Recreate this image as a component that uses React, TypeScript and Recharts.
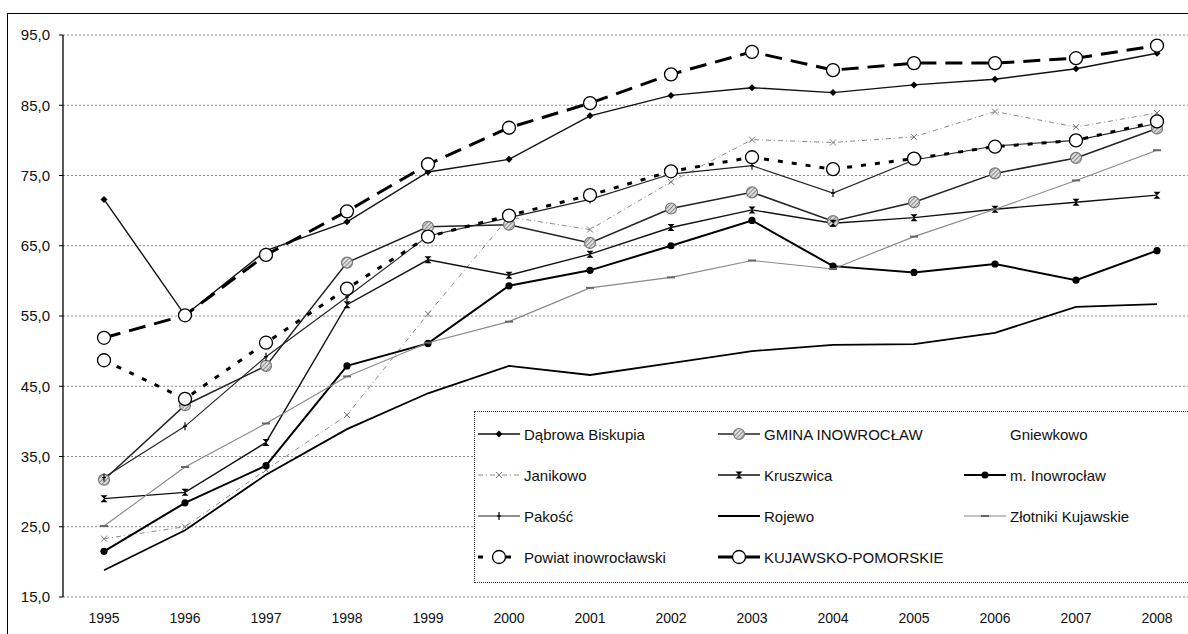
import React from "react";
import { LineChart, Line, XAxis, YAxis, CartesianGrid } from "recharts";

const years = ["1995", "1996", "1997", "1998", "1999", "2000", "2001", "2002", "2003", "2004", "2005", "2006", "2007", "2008"];
const yTicks = [15, 25, 35, 45, 55, 65, 75, 85, 95];

const dabrowa = [71.6, 55.1, 64.3, 68.4, 75.5, 77.3, 83.5, 86.4, 87.5, 86.8, 87.9, 88.7, 90.2, 92.4];
const gmina = [31.7, 42.3, 47.9, 62.6, 67.7, 68.0, 65.4, 70.3, 72.6, 68.5, 71.2, 75.3, 77.5, 81.7];
const gniewkowo: (number | null)[] = [null, null, null, null, null, null, null, null, null, null, null, null, null, null];
const janikowo = [23.3, 25.0, 33.1, 40.9, 55.3, 69.1, 67.3, 74.1, 80.1, 79.7, 80.5, 84.1, 81.9, 83.9];
const kruszwica = [29.0, 29.9, 37.0, 56.6, 63.0, 60.8, 63.8, 67.6, 70.1, 68.2, 69.0, 70.2, 71.2, 72.2];
const inowroclaw = [21.5, 28.4, 33.7, 47.9, 51.1, 59.3, 61.5, 65.0, 68.6, 62.1, 61.2, 62.4, 60.1, 64.3];
const pakosc = [32.0, 39.3, 49.2, 57.7, 66.4, 69.0, 71.6, 75.2, 76.4, 72.5, 77.2, 79.2, 80.0, 82.4];
const rojewo = [18.8, 24.5, 32.4, 38.9, 44.0, 47.9, 46.6, 48.3, 50.0, 50.9, 51.0, 52.6, 56.3, 56.7];
const zlotniki = [25.1, 33.5, 39.7, 46.4, 51.2, 54.2, 59.0, 60.5, 62.9, 61.7, 66.3, 70.2, 74.3, 78.6];
const powiat = [48.7, 43.2, 51.2, 58.9, 66.3, 69.3, 72.2, 75.6, 77.6, 75.9, 77.4, 79.1, 80.0, 82.7];
const kujawsko = [51.9, 55.1, 63.7, 69.9, 76.6, 81.8, 85.3, 89.4, 92.6, 90.0, 91.0, 91.0, 91.7, 93.5];

const data = years.map((year, i) => ({
  year,
  dabrowa: dabrowa[i],
  gmina: gmina[i],
  gniewkowo: gniewkowo[i],
  janikowo: janikowo[i],
  kruszwica: kruszwica[i],
  inowroclaw: inowroclaw[i],
  pakosc: pakosc[i],
  rojewo: rojewo[i],
  zlotniki: zlotniki[i],
  powiat: powiat[i],
  kujawsko: kujawsko[i],
}));

type Kind = "diamond" | "hatch" | "xgrey" | "bowtie" | "dot" | "plus" | "dash" | "open" | "none";

interface SeriesDef {
  key: string;
  name: string;
  color: string;
  width: number;
  dash?: string;
  marker: Kind;
}

const series: SeriesDef[] = [
  { key: "dabrowa", name: "Dąbrowa Biskupia", color: "#111", width: 1.4, marker: "diamond" },
  { key: "gmina", name: "GMINA INOWROCŁAW", color: "#222", width: 1.5, marker: "hatch" },
  { key: "gniewkowo", name: "Gniewkowo", color: "#fff", width: 1, marker: "none" },
  { key: "janikowo", name: "Janikowo", color: "#8a8a8a", width: 1, dash: "5 3 1 3", marker: "xgrey" },
  { key: "kruszwica", name: "Kruszwica", color: "#111", width: 1.4, marker: "bowtie" },
  { key: "inowroclaw", name: "m. Inowrocław", color: "#000", width: 2, marker: "dot" },
  { key: "pakosc", name: "Pakość", color: "#222", width: 1.1, marker: "plus" },
  { key: "rojewo", name: "Rojewo", color: "#000", width: 1.8, marker: "none" },
  { key: "zlotniki", name: "Złotniki Kujawskie", color: "#888", width: 1.1, marker: "dash" },
  { key: "powiat", name: "Powiat inowrocławski", color: "#000", width: 3, dash: "5 9", marker: "open" },
  { key: "kujawsko", name: "KUJAWSKO-POMORSKIE", color: "#000", width: 3, dash: "17 9", marker: "open" },
];

function Marker({ kind, cx, cy, hatchId }: { kind: Kind; cx: number; cy: number; hatchId: string }) {
  switch (kind) {
    case "diamond":
      return <polygon points={`${cx},${cy - 3.5} ${cx + 3.5},${cy} ${cx},${cy + 3.5} ${cx - 3.5},${cy}`} fill="#000" />;
    case "hatch":
      return <circle cx={cx} cy={cy} r={5.5} fill={`url(#${hatchId})`} stroke="#777" strokeWidth={1.2} />;
    case "xgrey":
      return (
        <g stroke="#777" strokeWidth={1}>
          <line x1={cx - 3} y1={cy - 3} x2={cx + 3} y2={cy + 3} />
          <line x1={cx - 3} y1={cy + 3} x2={cx + 3} y2={cy - 3} />
        </g>
      );
    case "bowtie":
      return <polygon points={`${cx - 3.5},${cy - 3.5} ${cx + 3.5},${cy - 3.5} ${cx - 3.5},${cy + 3.5} ${cx + 3.5},${cy + 3.5}`} fill="#000" />;
    case "dot":
      return <circle cx={cx} cy={cy} r={3.6} fill="#000" />;
    case "plus":
      return (
        <g stroke="#000" strokeWidth={1.2}>
          <line x1={cx} y1={cy - 4} x2={cx} y2={cy + 4} />
          <line x1={cx - 2} y1={cy} x2={cx + 2} y2={cy} />
        </g>
      );
    case "dash":
      return <line x1={cx - 4} y1={cy} x2={cx + 4} y2={cy} stroke="#666" strokeWidth={2} />;
    case "open":
      return <circle cx={cx} cy={cy} r={6.5} fill="#fff" stroke="#000" strokeWidth={1.3} />;
    default:
      return null;
  }
}

const mkDot = (kind: Kind) => (p: any) => {
  const { cx, cy, index } = p;
  if (kind === "none" || cx == null || cy == null || p.value == null) return <g key={index} />;
  return (
    <g key={index}>
      <Marker kind={kind} cx={cx} cy={cy} hatchId="hatchMain" />
    </g>
  );
};

function HatchDef({ id }: { id: string }) {
  return (
    <pattern id={id} width={3} height={3} patternUnits="userSpaceOnUse" patternTransform="rotate(45)">
      <rect width={3} height={3} fill="#ddd" />
      <line x1={0} y1={0} x2={0} y2={3} stroke="#666" strokeWidth={1.4} />
    </pattern>
  );
}

// legend grid: 3 columns, 4 rows
const legendCols = [476, 716, 962];
const legendRows = [434, 475, 516, 557];

function LegendItem({ s, i }: { s: SeriesDef; i: number }) {
  const x = legendCols[i % 3];
  const y = legendRows[Math.floor(i / 3)];
  const hid = `hatchLeg${i}`;
  return (
    <div style={{ position: "absolute", left: x, top: y - 10, height: 20, display: "flex", alignItems: "center", whiteSpace: "nowrap" }}>
      <svg width={46} height={20} style={{ display: "block" }}>
        <defs>
          <HatchDef id={hid} />
        </defs>
        {s.marker !== "none" || s.key === "rojewo" ? (
          <line x1={2} y1={10} x2={44} y2={10} stroke={s.color} strokeWidth={s.width} strokeDasharray={s.dash ? s.dash : undefined} />
        ) : null}
        <Marker kind={s.marker} cx={23} cy={10} hatchId={hid} />
      </svg>
      <span style={{ marginLeft: 2, fontSize: 15, color: "#111" }}>{s.name}</span>
    </div>
  );
}

export default function App() {
  return (
    <div style={{ position: "fixed", left: 0, top: 0, width: 1188, height: 634, overflow: "hidden", background: "#fff", fontFamily: "'Liberation Sans', Arial, sans-serif" }}>
      <div style={{ position: "absolute", left: 7, top: 13, width: 1300, height: 700, borderLeft: "1.5px solid #000", borderTop: "1.5px solid #000" }} />
      <div style={{ position: "absolute", left: 0, top: 0 }}>
        <LineChart width={1198} height={634} data={data} margin={{ top: 35, right: 0, bottom: 7, left: 0 }}>
          <defs>
            <HatchDef id="hatchMain" />
          </defs>
          <CartesianGrid vertical={false} stroke="#888" strokeDasharray="2 2" />
          <XAxis
            dataKey="year"
            padding={{ left: 41, right: 41 }}
            height={30}
            axisLine={false}
            tickLine={false}
            tickSize={6}
            tickMargin={10}
            tick={{ fill: "#111", fontSize: 14 }}
            interval={0}
          />
          <YAxis
            width={63}
            domain={[15, 95]}
            ticks={yTicks}
            tickFormatter={(v: number) => v.toFixed(1).replace(".", ",")}
            axisLine={{ stroke: "#000", strokeWidth: 1.3 }}
            tickLine={{ stroke: "#000" }}
            tickSize={4}
            tickMargin={9}
            tick={{ fill: "#111", fontSize: 15 }}
          />
          {series.map((s) => (
            <Line
              key={s.key}
              dataKey={s.key}
              name={s.name}
              type="linear"
              stroke={s.color}
              strokeWidth={s.width}
              strokeDasharray={s.dash}
              dot={mkDot(s.marker)}
              activeDot={false}
              isAnimationActive={false}
              connectNulls={false}
            />
          ))}
        </LineChart>
      </div>
      <div style={{ position: "absolute", left: 474, top: 411, width: 800, height: 170, border: "1px dotted #333", background: "#fff" }} />
      {series.map((s, i) => (
        <LegendItem key={s.key} s={s} i={i} />
      ))}
    </div>
  );
}
